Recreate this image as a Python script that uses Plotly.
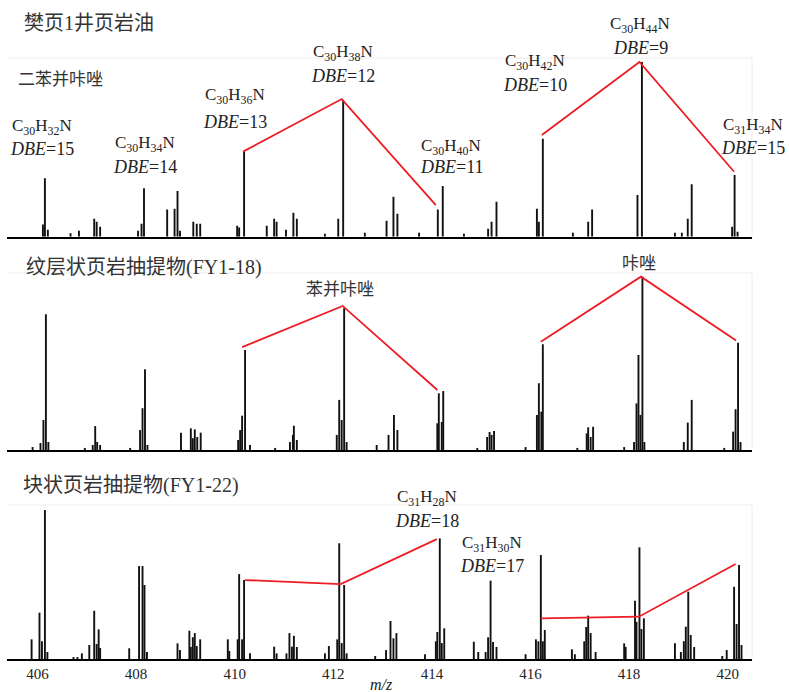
import plotly.graph_objects as go

# ---------------- data (m/z, relative intensity %) ----------------
top_mz = [406.11, 406.15, 406.21, 406.67, 406.84, 407.15, 407.20, 407.27, 408.04, 408.11,
          408.16, 408.63, 408.78, 408.84, 408.89, 409.16, 409.23, 409.30, 410.05, 410.09,
          410.19, 410.65, 410.80, 410.85, 411.04, 411.19, 411.26, 411.83, 412.10, 412.20,
          412.64, 413.08, 413.22, 413.30, 413.74, 414.12, 414.22, 414.65, 415.14, 415.21,
          415.31, 416.13, 416.17, 416.25, 416.86, 417.17, 417.25, 418.17, 418.26, 418.93,
          419.07, 419.19, 419.27, 420.09, 420.14, 420.20]
top_int = [7, 33.4, 4, 2, 3.4, 10.3, 8.6, 5.7, 3.4, 7.4,
           27.7, 15.5, 16, 26.2, 3.4, 8.6, 7.4, 7.4, 6.3, 5.2,
           48.7, 6.3, 10.3, 8.6, 4, 13.7, 10.3, 1.7, 10.3, 78.4,
           2.3, 9.2, 22.9, 13.2, 2.3, 15.5, 29, 1.7, 4.6, 8.6,
           20, 16, 8.6, 56.1, 2.3, 8.6, 15.5, 23.9, 100, 2.3,
           2.3, 10.3, 30, 5.7, 35.3, 2.9]

mid_mz = [405.90, 406.06, 406.12, 406.17, 406.22, 406.96, 407.12, 407.17, 407.21, 407.27,
          407.88, 408.08, 408.13, 408.18, 408.23, 408.91, 409.11, 409.15, 409.19, 409.24,
          409.31, 410.07, 410.11, 410.15, 410.21, 410.31, 410.82, 411.12, 411.18, 411.20,
          411.26, 412.07, 412.12, 412.17, 412.22, 412.27, 412.88, 413.12, 413.23, 413.30,
          414.11, 414.14, 414.20, 414.23, 414.92, 415.12, 415.17, 415.21, 415.26, 415.90,
          416.13, 416.17, 416.22, 416.25, 416.95, 417.14, 417.17, 417.22, 417.27, 417.90,
          418.10, 418.15, 418.19, 418.23, 418.27, 418.31, 419.11, 419.19, 419.27, 419.93,
          420.11, 420.16, 420.21, 420.26]
mid_int = [1.7, 4, 17.3, 78.3, 4.6, 1.2, 2.9, 13.8, 4.6, 2.9,
           1.2, 11.5, 24.1, 46.6, 2.9, 10, 12.5, 6.8, 11.9, 7.5,
           10, 5.8, 11.5, 19.8, 57.7, 2.9, 1.2, 4.6, 8.7, 14,
           5.8, 8.7, 28.9, 17.3, 81.8, 4.6, 2.9, 8.7, 20.2, 11.5,
           15.4, 32.7, 16.2, 34, 1.2, 7.5, 10.4, 8.7, 11, 1.7,
           20.2, 38.5, 22.1, 61, 1.2, 9.6, 13.1, 7.5, 13.4, 1.7,
           4.6, 26.9, 54.8, 20.2, 100, 4.6, 4.6, 15.8, 28.9, 1.2,
           10.6, 23.5, 61.9, 4.6]

bot_mz = [405.88, 406.04, 406.09, 406.15, 406.20, 406.73, 406.81, 406.90, 407.05, 407.15,
          407.20, 407.24, 407.27, 407.86, 408.06, 408.13, 408.17, 408.22, 408.84, 408.89,
          409.08, 409.11, 409.15, 409.19, 409.23, 409.30, 409.86, 409.89, 410.06, 410.09,
          410.15, 410.19, 410.31, 410.80, 410.85, 411.05, 411.11, 411.16, 411.20, 411.26,
          411.83, 411.91, 412.08, 412.12, 412.17, 412.22, 412.27, 412.85, 413.07, 413.16,
          413.22, 413.28, 413.86, 414.08, 414.11, 414.16, 414.20, 414.25, 414.85, 414.94,
          415.09, 415.14, 415.19, 415.24, 415.31, 415.90, 416.11, 416.16, 416.21, 416.25,
          416.29, 416.84, 416.90, 417.09, 417.13, 417.17, 417.22, 417.32, 417.90, 417.93,
          418.12, 418.15, 418.21, 418.25, 418.30, 418.93, 419.05, 419.11, 419.15, 419.20,
          419.25, 419.32, 419.89, 419.98, 420.13, 420.18, 420.23, 420.28]
bot_int = [13.2, 31.1, 11.9, 100, 4.7, 1.3, 1.3, 3.8, 9.4, 32.4,
           10.1, 19.9, 7.4, 7.2, 62.4, 62.4, 49.7, 4.7, 10.5, 6,
           19, 8.1, 14.6, 17.4, 8.7, 13.2, 13.2, 5.4, 13.2, 57,
           13.2, 53, 3.8, 8.3, 3.8, 3.8, 17.4, 8.3, 15.6, 8.1,
           3.8, 8.7, 13.2, 77.7, 10.7, 49.7, 3.8, 2, 6, 25.5,
           13.9, 17.4, 3.2, 11.9, 18.1, 81, 10.7, 20.6, 11.6, 4.7,
           4.7, 14.6, 52.6, 11.4, 8.1, 3.2, 13.2, 11.9, 69.8, 11.9,
           19.5, 6.5, 3.2, 11.9, 21.5, 29.1, 17.4, 4.7, 10.5, 8.1,
           39.1, 25, 75, 20.1, 27.3, 10.5, 4.7, 11.9, 21.7, 45.2,
           16.1, 8.1, 2, 6, 48.5, 23.5, 63.1, 9.4]

# red connecting lines (m/z, intensity)
top_red1_mz, top_red1_int = [410.17, 412.17, 414.08], [48.7, 78.8, 18.1]
top_red2_mz, top_red2_int = [416.23, 418.21, 420.13], [58.2, 100, 37.2]
mid_red1_mz, mid_red1_int = [410.15, 412.19, 414.11], [59.3, 83.1, 34.6]
mid_red2_mz, mid_red2_int = [416.21, 418.24, 420.17], [62.5, 100, 63.1]
bot_red1_mz, bot_red1_int = [410.21, 412.15, 414.10], [53, 50.3, 80.5]
bot_red2_mz, bot_red2_int = [416.21, 418.20, 420.16], [27.3, 28.4, 63.8]

tick_vals = [406, 408, 410, 412, 414, 416, 418, 420]
tick_text = ["406", "408", "410", "412", "414", "416", "418", "420"]

panel_titles = ["樊页1井页岩油", "纹层状页岩抽提物(FY1-18)", "块状页岩抽提物(FY1-22)"]

# ---------------- figure ----------------
W, H = 789, 692
SERIF = "Liberation Serif, Noto Sans CJK SC, serif"
TXT = "#222222"

fig = go.Figure()


def sticks(mz, inten):
    xs, ys = [], []
    for m, v in zip(mz, inten):
        xs += [m, m, None]
        ys += [0, v, None]
    return xs, ys


panels = [
    (top_mz, top_int, [(top_red1_mz, top_red1_int), (top_red2_mz, top_red2_int)], "x3", "y3"),
    (mid_mz, mid_int, [(mid_red1_mz, mid_red1_int), (mid_red2_mz, mid_red2_int)], "x2", "y2"),
    (bot_mz, bot_int, [(bot_red1_mz, bot_red1_int), (bot_red2_mz, bot_red2_int)], "x", "y"),
]
for mz, inten, reds, xa, ya in panels:
    xs, ys = sticks(mz, inten)
    fig.add_trace(go.Scatter(x=xs, y=ys, mode="lines", xaxis=xa, yaxis=ya,
                             line=dict(color="#111111", width=1.9), hoverinfo="skip",
                             showlegend=False))
    for rmz, rint in reds:
        fig.add_trace(go.Scatter(x=rmz, y=rint, mode="lines", xaxis=xa, yaxis=ya,
                                 line=dict(color="#ee1c25", width=1.8), hoverinfo="skip",
                                 showlegend=False))

XR = [405.381, 420.493]
XD = [7 / W, 752 / W]


def yd(base_px, top_px):
    return [1 - base_px / H, 1 - top_px / H]


common_x = dict(range=XR, domain=XD, showgrid=False, zeroline=False, showline=True,
                linecolor="black", linewidth=2, ticks="")
fig.update_layout(
    width=W, height=H,
    margin=dict(l=0, r=0, t=0, b=0),
    paper_bgcolor="white", plot_bgcolor="white",
    xaxis=dict(**common_x, tickvals=tick_vals, ticktext=tick_text,
               tickfont=dict(family=SERIF, size=15, color=TXT), ticklabelstandoff=0),
    xaxis2=dict(**common_x, anchor="y2", showticklabels=False, matches="x"),
    xaxis3=dict(**common_x, anchor="y3", showticklabels=False, matches="x"),
    yaxis=dict(range=[0, 103.4], domain=yd(659, 505), visible=False),
    yaxis2=dict(range=[0, 102.1], domain=yd(450, 273), visible=False),
    yaxis3=dict(range=[0, 102.3], domain=yd(236.7, 58), visible=False),
)

# faint frame lines (top & right) of each panel
for xr, yr in [("x", "y"), ("x2", "y2"), ("x3", "y3")]:
    fig.add_shape(type="path", path="M 0,1 L 1,1 L 1,0",
                  xref=f"{xr} domain", yref=f"{yr} domain",
                  line=dict(color="#ececec", width=1))


def ann(text, px, py, size=17, xanchor="center", color=TXT):
    fig.add_annotation(text=text, x=px / W, y=1 - py / H, xref="paper", yref="paper",
                       xanchor=xanchor, yanchor="middle", showarrow=False,
                       font=dict(family=SERIF, size=size, color=color))


# panel titles
ann(panel_titles[0], 22, 23.3, size=20, xanchor="left", color="#333333")
ann(panel_titles[1], 24, 267.7, size=20, xanchor="left", color="#333333")
ann(panel_titles[2], 21, 485, size=20, xanchor="left", color="#333333")

# class labels
ann("二苯并咔唑", 16, 80, size=17, xanchor="left", color="#333333")
ann("苯并咔唑", 339.5, 290, size=17, color="#333333")
ann("咔唑", 639, 263.3, size=17, color="#333333")

# formula labels (formula line, DBE line)
formula_labels = [
    ("C<sub>30</sub>H<sub>32</sub>N", "15", 42.3, 126.7, 149.3),
    ("C<sub>30</sub>H<sub>34</sub>N", "14", 144.5, 144, 166.7),
    ("C<sub>30</sub>H<sub>36</sub>N", "13", 235, 96, 121.7),
    ("C<sub>30</sub>H<sub>38</sub>N", "12", 342.5, 53.3, 76),
    ("C<sub>30</sub>H<sub>40</sub>N", "11", 451.5, 146.7, 166.7),
    ("C<sub>30</sub>H<sub>42</sub>N", "10", 535.3, 61.7, 85),
    ("C<sub>30</sub>H<sub>44</sub>N", "9", 640, 25, 48.3),
    ("C<sub>31</sub>H<sub>34</sub>N", "15", 753, 126, 148.3),
    ("C<sub>31</sub>H<sub>28</sub>N", "18", 427.2, 498.3, 521),
    ("C<sub>31</sub>H<sub>30</sub>N", "17", 492, 544, 566),
]
for f, dbe, px, py1, py2 in formula_labels:
    ann(f, px, py1, size=17)
    ann(f"<i>DBE</i>={dbe}", px, py2, size=18)

# axis title
ann("<i>m/z</i>", 381, 684, size=16)

fig.write_html("out.html", config={"displayModeBar": False},
               post_script="document.body.style.margin='0';")
